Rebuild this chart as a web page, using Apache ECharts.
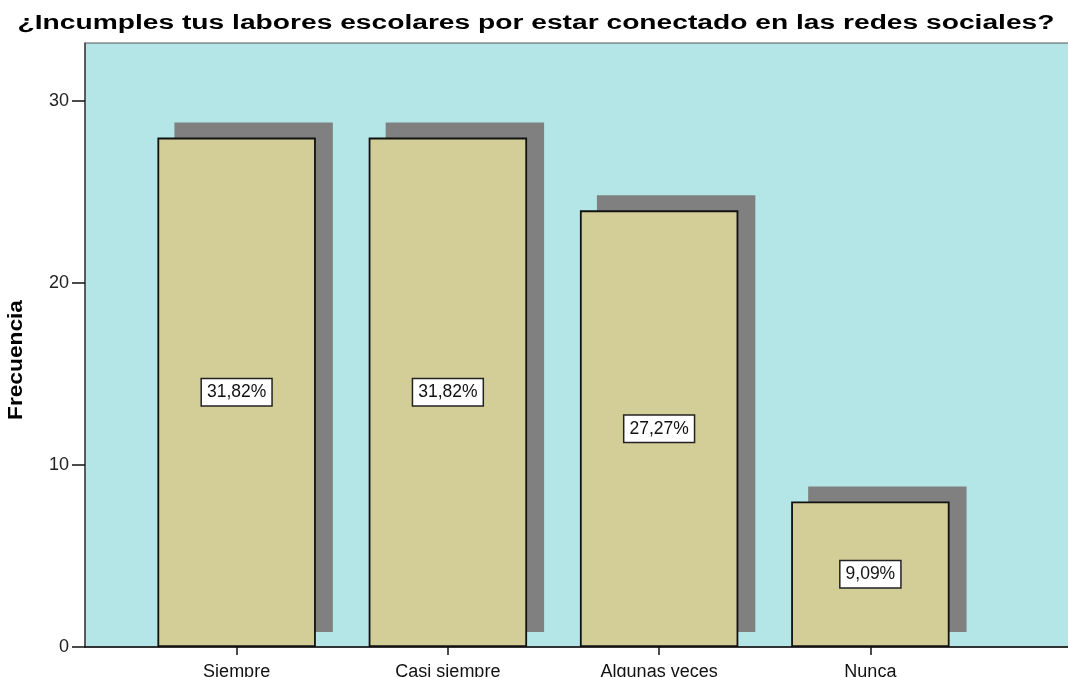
<!DOCTYPE html>
<html>
<head>
<meta charset="utf-8">
<script src="https://cdn.jsdelivr.net/npm/echarts@6/dist/echarts.min.js"></script>
<style>
  html, body { margin: 0; padding: 0; background: #fff; }
  #chart { width: 1068px; height: 677px; }
</style>
</head>
<body>
<div id="chart"></div>
<script>
const categories = ['Siempre', 'Casi siempre', 'Algunas veces', 'Nunca'];
const frecuencia = [28, 28, 24, 8];
const porcentajes = ['31,82%', '31,82%', '27,27%', '9,09%'];
const yTicks = [0, 10, 20, 30];

const chart = echarts.init(document.getElementById('chart'));
const font = 'Liberation Sans, Arial, sans-serif';
const yMax = 33.2;

// los textos en negrita del original son mas anchos que Arial: se estiran
const titulo = '¿Incumples tus labores escolares por estar conectado en las redes sociales?';
const ejeY = 'Frecuencia';
const boldFont = 'bold 19.5px "Liberation Sans"';
const ctx = document.createElement('canvas').getContext('2d');
ctx.font = boldFont;
const titleScale = 1037 / ctx.measureText(titulo).width;
const ejeYScale = 120 / ctx.measureText(ejeY).width;

chart.setOption({
  animation: false,
  graphic: [
    {
      type: 'text',
      x: 536,
      y: 24,
      scaleX: titleScale,
      style: {
        text: titulo,
        font: boldFont,
        fill: '#000',
        textAlign: 'center',
        textVerticalAlign: 'middle'
      }
    },
    {
      type: 'text',
      x: 17,
      y: 360,
      rotation: Math.PI / 2,
      scaleX: ejeYScale,
      style: {
        text: ejeY,
        font: boldFont,
        fill: '#000',
        textAlign: 'center',
        textVerticalAlign: 'middle'
      }
    }
  ],
  // grid 0: fondo y eje Y, grid 1: barras, grid 2: sombras desplazadas
  grid: [
    {
      left: 85, top: 43, right: -3, bottom: 30, outerBoundsMode: 'none',
      show: true, backgroundColor: '#b4e6e7', borderColor: '#555', borderWidth: 1
    },
    { left: 131, top: 43, right: 92, bottom: 30, outerBoundsMode: 'none' },
    { left: 148, top: 28, right: 75, bottom: 45, outerBoundsMode: 'none' }
  ],
  xAxis: [
    {
      gridIndex: 0, type: 'value', min: 0, max: 1,
      axisLine: { show: true, lineStyle: { color: '#111', width: 1.5 } },
      axisTick: { show: false }, axisLabel: { show: false }, splitLine: { show: false }
    },
    {
      gridIndex: 1, type: 'category', data: categories,
      axisLine: { show: false },
      axisTick: { show: true, alignWithLabel: true, length: 8, lineStyle: { color: '#111', width: 1.5 } },
      axisLabel: { fontFamily: font, fontSize: 18, color: '#111', margin: 16 }
    },
    { gridIndex: 2, type: 'category', data: categories, show: false }
  ],
  yAxis: [
    {
      gridIndex: 0, type: 'value', min: 0, max: yMax, interval: 10,
      axisLine: { show: true, lineStyle: { color: '#444', width: 1.5 } },
      axisTick: { show: true, length: 13, customValues: yTicks, lineStyle: { color: '#111', width: 1.5 } },
      axisLabel: {
        fontFamily: font, fontSize: 18, color: '#222', margin: 16,
        customValues: yTicks
      },
      splitLine: { show: false }
    },
    { gridIndex: 1, type: 'value', min: 0, max: yMax, show: false },
    { gridIndex: 2, type: 'value', min: 0, max: yMax, show: false }
  ],
  series: [
    {
      // sombra gris detras de cada barra
      type: 'bar',
      xAxisIndex: 2,
      yAxisIndex: 2,
      data: frecuencia,
      barWidth: '75%',
      z: 1,
      silent: true,
      itemStyle: { color: '#808080' }
    },
    {
      type: 'bar',
      xAxisIndex: 1,
      yAxisIndex: 1,
      data: frecuencia,
      barWidth: '75%',
      z: 2,
      itemStyle: {
        color: '#d3ce97',
        borderColor: '#111',
        borderWidth: 1.8
      },
      label: {
        show: true,
        position: 'inside',
        formatter: p => porcentajes[p.dataIndex],
        fontFamily: font,
        fontSize: 17.5,
        color: '#111',
        backgroundColor: '#fff',
        borderColor: '#222',
        borderWidth: 1.5,
        padding: [5, 5, 3, 5]
      }
    }
  ]
});
</script>
</body>
</html>
